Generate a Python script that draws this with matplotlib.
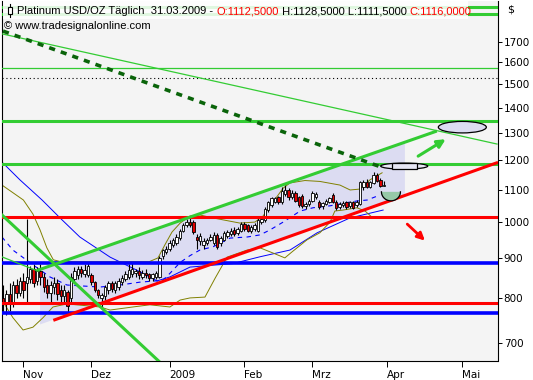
import numpy as np
import pandas as pd
import matplotlib
matplotlib.use("Agg")
import matplotlib.pyplot as plt
from matplotlib.patches import Ellipse, Polygon, Rectangle, FancyArrowPatch
from matplotlib.transforms import IdentityTransform
from matplotlib.lines import Line2D

plt.rcParams['font.family'] = ['DejaVu Sans']

# ---------------- data ----------------
first_day = "2008-10-24"
opens = [800, 785, 810, 790, 830, 812, 840, 836, 845, 870, 840, 865, 850, 830, 812, 825, 835, 820, 805, 815,
         800, 845, 855, 872, 858, 855, 855, 838, 818, 800, 805, 818, 836, 820, 826, 838, 845, 850, 858, 862,
         866, 852, 862, 858, 848, 850, 852, 905, 915, 925, 935, 940, 955, 975, 990, 1000, 1000, 958, 945, 935,
         940, 950, 940, 962, 940, 950, 960, 965, 978, 968, 975, 995, 990, 975, 980, 975, 1000, 1005, 1035, 1050,
         1062, 1075, 1060, 1085, 1100, 1078, 1090, 1075, 1080, 1048, 1055, 1065, 1075, 1062, 1048, 1055, 1062, 1082, 1062, 1045,
         1050, 1060, 1048, 1060, 1050, 1055, 1110, 1125, 1110, 1122, 1150, 1132, 1112.5]
highs = [830, 820, 835, 840, 845, 850, 860, 1010, 880, 885, 875, 885, 860, 845, 840, 850, 845, 830, 830, 820,
         860, 875, 880, 880, 885, 888, 862, 842, 822, 812, 830, 840, 842, 842, 848, 855, 865, 885, 890, 872,
         875, 868, 870, 862, 862, 866, 905, 925, 932, 948, 955, 965, 980, 998, 1010, 1012, 1005, 965, 968, 955,
         955, 965, 970, 968, 960, 975, 978, 982, 985, 985, 1000, 1000, 995, 992, 998, 1012, 1015, 1045, 1065, 1078,
         1078, 1080, 1110, 1115, 1105, 1098, 1095, 1080, 1085, 1062, 1070, 1095, 1092, 1068, 1062, 1070, 1078, 1090, 1068, 1062,
         1065, 1065, 1065, 1065, 1068, 1130, 1132, 1135, 1130, 1160, 1155, 1138, 1128.5]
lows = [765, 760, 770, 780, 800, 805, 800, 790, 835, 825, 832, 830, 815, 800, 790, 810, 795, 790, 785, 768,
        790, 835, 845, 850, 850, 850, 830, 815, 800, 775, 795, 810, 815, 812, 820, 832, 840, 845, 850, 852,
        845, 845, 848, 840, 842, 845, 848, 898, 910, 918, 930, 935, 950, 970, 985, 985, 965, 925, 935, 925,
        935, 945, 935, 925, 932, 945, 955, 960, 960, 962, 970, 975, 970, 968, 975, 970, 995, 1000, 1030, 1045,
        1058, 1055, 1055, 1080, 1068, 1070, 1060, 1045, 1042, 1040, 1048, 1060, 1070, 1038, 1040, 1050, 1058, 1058, 1035, 1040,
        1045, 1040, 1042, 1038, 1045, 1050, 1100, 1105, 1105, 1118, 1125, 1108, 1111.5]
closes = [785, 810, 790, 830, 812, 840, 820, 851, 870, 835, 865, 850, 825, 812, 830, 835, 810, 805, 820, 782,
          850, 865, 872, 860, 868, 878, 838, 820, 808, 808, 825, 836, 822, 835, 840, 848, 858, 868, 872, 866,
          856, 860, 855, 848, 858, 860, 900, 920, 925, 940, 950, 958, 975, 990, 1000, 990, 970, 950, 960, 945,
          948, 958, 962, 930, 955, 968, 972, 975, 965, 980, 995, 980, 975, 985, 990, 1005, 1008, 1040, 1060, 1072,
          1072, 1060, 1095, 1100, 1075, 1090, 1065, 1050, 1048, 1055, 1065, 1088, 1085, 1045, 1058, 1065, 1072, 1062, 1042, 1055,
          1058, 1045, 1060, 1042, 1060, 1125, 1125, 1110, 1125, 1148, 1130, 1112, 1116]

y_ticks = [700, 800, 900, 1000, 1100, 1200, 1300, 1400, 1500, 1600, 1700]
month_starts = ["2008-11-01", "2008-12-01", "2009-01-01", "2009-02-01", "2009-03-01", "2009-04-01", "2009-05-01"]
month_labels = ["Nov", "Dez", "2009", "Feb", "Mrz", "Apr", "Mai"]

# horizontal price levels
thick_green_levels = [1884, 1843, 1347, 1186]
thin_green_levels = [1572]
dotted_levels = [1526]
red_levels = [1016, 789]
blue_levels = [886, 765]

# trend lines: (bar index, price)
thin_green_diag_x, thin_green_diag_y = [-0.9, 145.3], [1742, 1258]
dotted_x, dotted_y = [0, 110.9], [1754, 1177]
chan_top_x, chan_top_y = [9.9, 127.6], [867, 1307]
lead_x, lead_y = [-0.4, 9.9], [903, 867]
chan_bot_x, chan_bot_y = [14.8, 145.6], [749, 1192]
down_green_x, down_green_y = [-0.3, 46.5], [1021, 660]
fill_x, fill_y = [10.9, 118.2, 118.2, 10.9], [870, 1265, 1082, 740]

# indicators
ma_long_x = [-0.3, 5, 11.5, 16.8, 22.6, 31.5, 40.3, 45.3, 49.1, 55, 67.6, 75.6, 84.4, 92.4, 102, 111.8]
ma_long_y = [1193, 1132, 1067, 1012, 957, 902, 864, 841, 851, 876, 885, 903, 921, 969, 1012, 1036]
ma_short_x = [-0.3, 2.9, 8.8, 13.8, 18.8, 28.5, 34.4, 40.3, 44.7, 46.8, 49.1, 52.1, 55, 57.9, 61.8, 66.8, 71.8,
              75.6, 78.5, 82.4, 87.4, 91.2, 96.2, 100.6, 104.1, 107.1, 110.9]
ma_short_y = [957, 921, 882, 851, 831, 826, 831, 838, 841, 841, 860, 888, 906, 921, 930, 954, 957,
              963, 977, 1000, 1033, 1043, 1049, 1058, 1064, 1067, 1083]
bb_up_x = [-0.3, 6, 8.8, 10.9, 12.9, 14.8, 17, 43, 45.6, 47.6, 49.7, 52.1, 55, 57.9, 62.4, 69.7, 74.1, 76.5,
           78.5, 80.6, 82.4, 84.4, 88.8, 93.2, 99.1, 102.1, 105, 107.9, 111.5]
bb_up_y = [1115, 1067, 1024, 977, 927, 895, 890, 890, 900, 935, 971, 997, 1018, 1021, 1011, 997, 1000, 1018,
           1049, 1078, 1105, 1122, 1130, 1127, 1115, 1099, 1102, 1132, 1156]
bb_lo_x = [-0.3, 2.9, 5.9, 8.8, 11.8, 14.7, 18.8, 28.5, 31.5, 38.2, 43.2, 49.1, 52.1, 55, 59.4, 62.4, 65.9,
           71.8, 75.6, 79.4, 82.9, 85, 89.4, 93.2, 96.2, 97.6, 100, 104.1, 106.5, 108.8, 111.8]
bb_lo_y = [795, 755, 728, 734, 755, 779, 786, 779, 772, 779, 784, 779, 795, 800, 802, 848, 902,
           921, 927, 913, 900, 916, 949, 969, 1000, 1033, 1036, 1043, 1033, 1012, 1012]

# annotations (bar index, price)
ellipse_up_c = (135.1, 1322)
ellipse_mid_c = (118.0, 1179)
bowl_c = (114.1, 1093)
green_arrow = [(122.1, 1214), (130.2, 1276)]
red_arrow = [(118.9, 994), (124.1, 947)]

# ---------------- figure ----------------
W, H = 533, 380
fig = plt.figure(figsize=(W / 100, H / 100), dpi=100, facecolor="white")
ax = fig.add_axes([2 / W, 19.5 / H, 495.5 / W, 360 / H])
ax.set_facecolor("#f4f4f4")
ax.set_yscale("log")
ax.set_xlim(-0.294, 145.44)
ax.set_ylim(665.5, 1919)

GREEN = "#33cc33"
RED = "#ff0000"
BLUE = "#0000ff"
OLIVE = "#808000"

# channel fill
ax.add_patch(Polygon(list(zip(fill_x, fill_y)), closed=True, facecolor="#dcdcf2", edgecolor="none", zorder=1))

# indicators
ax.plot(ma_long_x, ma_long_y, color=BLUE, lw=0.7, zorder=2)
ax.plot(ma_short_x, ma_short_y, color=BLUE, lw=0.8, ls=(0, (4, 4)), zorder=2)
ax.plot(bb_up_x, bb_up_y, color=OLIVE, lw=0.7, zorder=2)
ax.plot(bb_lo_x, bb_lo_y, color=OLIVE, lw=0.7, zorder=2)

# candles
xs = np.arange(len(opens))
o = np.array(opens); h = np.array(highs); l = np.array(lows); c = np.array(closes)
ax.vlines(xs, l, h, color="black", lw=0.8, zorder=3)
up = c >= o
ax.bar(xs[up], (c - o)[up], bottom=o[up], width=0.72, color="white", edgecolor="black", lw=0.6, zorder=4)
ax.bar(xs[~up], (c - o)[~up], bottom=o[~up], width=0.72, color="#e00000", edgecolor="black", lw=0.6, zorder=4)

# horizontal levels
for v in thick_green_levels:
    ax.axhline(v, color=GREEN, lw=2.2, zorder=5)
for v in thin_green_levels:
    ax.axhline(v, color=GREEN, lw=0.9, zorder=5)
for v in dotted_levels:
    ax.axhline(v, color="black", lw=0.8, ls=(0, (1, 2.5)), zorder=5)
for v in red_levels:
    ax.axhline(v, color=RED, lw=2.2, zorder=5)
for v in blue_levels:
    ax.axhline(v, color=BLUE, lw=2.6, zorder=5)

# trend lines
ax.plot(thin_green_diag_x, thin_green_diag_y, color=GREEN, lw=0.9, zorder=6)
ax.plot(lead_x, lead_y, color=GREEN, lw=0.9, zorder=6)
ax.plot(chan_top_x, chan_top_y, color=GREEN, lw=2.2, zorder=6, solid_capstyle="butt")
ax.plot(chan_bot_x, chan_bot_y, color=RED, lw=2.2, zorder=6, solid_capstyle="butt")
ax.plot(down_green_x, down_green_y, color=GREEN, lw=2.2, zorder=6)
ax.plot(dotted_x, dotted_y, color="#0a640a", lw=2.6, ls=(0, (1.7, 1.7)), zorder=6)

# arrows
ax.add_patch(FancyArrowPatch(green_arrow[0], green_arrow[1], arrowstyle="-|>", mutation_scale=12,
                             color=GREEN, lw=2.2, zorder=7, shrinkA=0, shrinkB=0))
ax.add_patch(FancyArrowPatch(red_arrow[0], red_arrow[1], arrowstyle="-|>", mutation_scale=11,
                             color=RED, lw=2.0, zorder=7, shrinkA=0, shrinkB=0))

# ellipses (sizes in pixels)
ident = IdentityTransform()
cx, cy = ax.transData.transform(ellipse_up_c)
ax.add_artist(Ellipse((cx, cy), 48, 11.5, transform=ident, facecolor="#dcdcf2", edgecolor="black", lw=0.9, zorder=8))
cx, cy = ax.transData.transform(ellipse_mid_c)
ax.add_artist(Ellipse((cx, cy), 47, 6, transform=ident, facecolor="#e6e6f4", edgecolor="black", lw=0.9, zorder=8))
ax.add_artist(Rectangle((cx - 12, cy - 3), 25, 6, transform=ident, facecolor="#e6e6f4", edgecolor="black", lw=0.9, zorder=9))
cx, cy = ax.transData.transform(bowl_c)
t = np.linspace(np.pi, 2 * np.pi, 40)
bx = cx + 9.5 * np.cos(t); by = cy + 9 * np.sin(t)
ax.add_artist(Polygon(np.column_stack([bx, by]), closed=True, transform=ident, facecolor="#96c8a8", edgecolor="none", zorder=8))
ax.add_artist(Line2D(bx, by, transform=ident, color="black", lw=0.9, zorder=9))

# axes styling
for s in ["left", "right", "bottom"]:
    ax.spines[s].set_linewidth(0.8)
    ax.spines[s].set_color("black")
ax.spines["top"].set_visible(False)

ax.yaxis.tick_right()
ax.yaxis.set_major_locator(matplotlib.ticker.FixedLocator(y_ticks))
ax.yaxis.set_minor_locator(matplotlib.ticker.NullLocator())
ax.yaxis.set_major_formatter(matplotlib.ticker.FixedFormatter([str(v) for v in y_ticks]))
ax.tick_params(axis="y", which="major", length=3, width=0.7, pad=1.5, labelsize=7.5, right=True, left=False)

all_days = pd.bdate_range(first_day, periods=160)
tick_pos = [int(all_days.searchsorted(pd.Timestamp(m))) for m in month_starts]
ax.set_xticks(tick_pos)
ax.set_xticklabels(month_labels, ha="left")
ax.tick_params(axis="x", length=4, width=0.7, pad=3, labelsize=7.5)

fig.text(507 / W, 1 - 10 / H, "$", fontsize=8, ha="left", va="center")

# header
fig.patches.append(Rectangle((3 / W, 1 - 19 / H), 465 / W, 18.5 / H, transform=fig.transFigure,
                             facecolor="white", alpha=0.85, edgecolor="none", zorder=10))
fig.lines.append(Line2D([9.5 / W, 9.5 / W], [1 - 4 / H, 1 - 17 / H], transform=fig.transFigure, color="black", lw=0.8, zorder=11))
fig.patches.append(Rectangle((7.5 / W, 1 - 13.5 / H), 4 / W, 6 / H, transform=fig.transFigure,
                             facecolor="white", edgecolor="black", lw=0.8, zorder=12))

renderer = fig.canvas.get_renderer()
hdr_font = dict(fontsize=8, family="Liberation Sans")


def text_width(s):
    t1 = fig.text(0, 0, s + "|", **hdr_font)
    t2 = fig.text(0, 0, "|", **hdr_font)
    w = t1.get_window_extent(renderer).width - t2.get_window_extent(renderer).width
    t1.remove(); t2.remove()
    return w


parts = [("Platinum USD/OZ Täglich  31.03.2009 - ", "black"), ("O:1112,5000", RED),
         (" H:1128,5000 L:1111,5000 ", "black"), ("C:1116,0000", RED)]
x = 17.0
for s, col in parts:
    fig.text(x / W, 1 - 11 / H, s, color=col, ha="left", va="center", zorder=13, **hdr_font)
    x += text_width(s)
fig.text(4 / W, 1 - 26 / H, "© www.tradesignalonline.com", ha="left", va="center", zorder=13, **hdr_font)

fig.savefig("out.png", dpi=100, facecolor="white")
